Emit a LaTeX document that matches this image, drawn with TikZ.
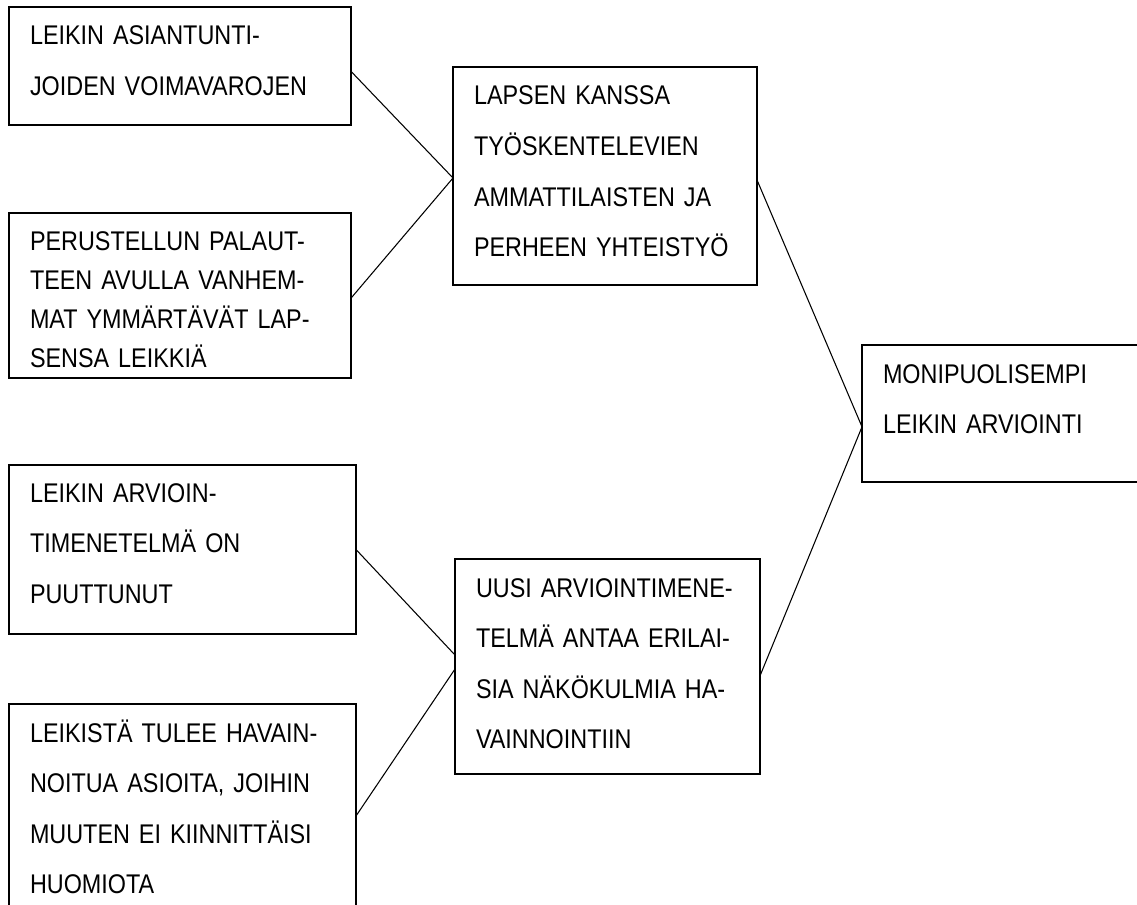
\documentclass[tikz,border=0pt]{standalone}
\usepackage{fontspec}
\setmainfont{Liberation Sans}[FakeStretch=0.866]
\newcommand{\spreadline}[2]{\makebox[#1][s]{#2}}

\begin{document}
\begin{tikzpicture}[x=0.75pt,y=-0.75pt,
      card/.style={draw,line width=1.1pt,anchor=north west,inner xsep=15.75pt,inner ysep=0pt,
        outer sep=0pt,align=left,text height=28.5pt,font=\fontsize{20.25pt}{37.9pt}\selectfont},
      link/.style={line width=0.8pt}]
      \useasboundingbox (0,0) rectangle (1137,905);
      \clip (0,0) rectangle (1137,905);
      \node[card,text width=225pt,text depth=60pt] (voimavarat) at (9,7)
        {LEIKIN ASIANTUNTI-\\JOIDEN VOIMAVAROJEN};
      \node[card,text width=225pt,text depth=95.25pt,font=\fontsize{20.25pt}{29.25pt}\selectfont] (palaute) at (9,213)
        {\spreadline{225pt}{PERUSTELLUN PALAUT-}\\
         \spreadline{225pt}{TEEN AVULLA VANHEM-}\\
         \spreadline{225pt}{MAT YMMÄRTÄVÄT LAP-}\\
         SENSA LEIKKIÄ};
      \node[card,text width=196.5pt,text depth=135pt] (yhteistyo) at (453,67)
        {LAPSEN KANSSA\\TYÖSKENTELEVIEN\\AMMATTILAISTEN JA\\PERHEEN YHTEISTYÖ};
      \node[card,text width=192pt,text depth=74.25pt] (arviointi) at (862,345)
        {MONIPUOLISEMPI\\LEIKIN ARVIOINTI};
      \node[card,text width=228.75pt,text height=27.75pt,text depth=99pt] (puute) at (9,465)
        {LEIKIN ARVIOIN-\\TIMENETELMÄ ON\\PUUTTUNUT};
      \node[card,text width=228.75pt,text depth=139.5pt] (havainnot) at (9,704)
        {\spreadline{228.75pt}{LEIKISTÄ TULEE HAVAIN-}\\
         \spreadline{228.75pt}{NOITUA ASIOITA, JOIHIN}\\
         \spreadline{228.75pt}{MUUTEN EI KIINNITTÄISI}\\
         HUOMIOTA};
      \node[card,text width=197.25pt,text depth=132.75pt] (menetelma) at (455,559)
        {\spreadline{197.25pt}{UUSI ARVIOINTIMENE-}\\
         \spreadline{197.25pt}{TELMÄ ANTAA ERILAI-}\\
         \spreadline{197.25pt}{SIA NÄKÖKULMIA HA-}\\
         VAINNOINTIIN};
      \draw[link] ([yshift=-4pt]voimavarat.east) -- ([yshift=-1.5pt]yhteistyo.west);
      \draw[link] ([yshift=-2pt]palaute.east) -- ([yshift=-1.5pt]yhteistyo.west);
      \draw[link] ([yshift=-3pt]yhteistyo.east) -- ([yshift=-10pt]arviointi.west);
      \draw[link] (puute.east) -- ([yshift=8.6pt]menetelma.west);
      \draw[link] (havainnot.east) -- ([yshift=-1.9pt]menetelma.west);
      \draw[link] ([yshift=-7pt]menetelma.east) -- ([yshift=-10pt]arviointi.west);
    \end{tikzpicture}
\end{document}
